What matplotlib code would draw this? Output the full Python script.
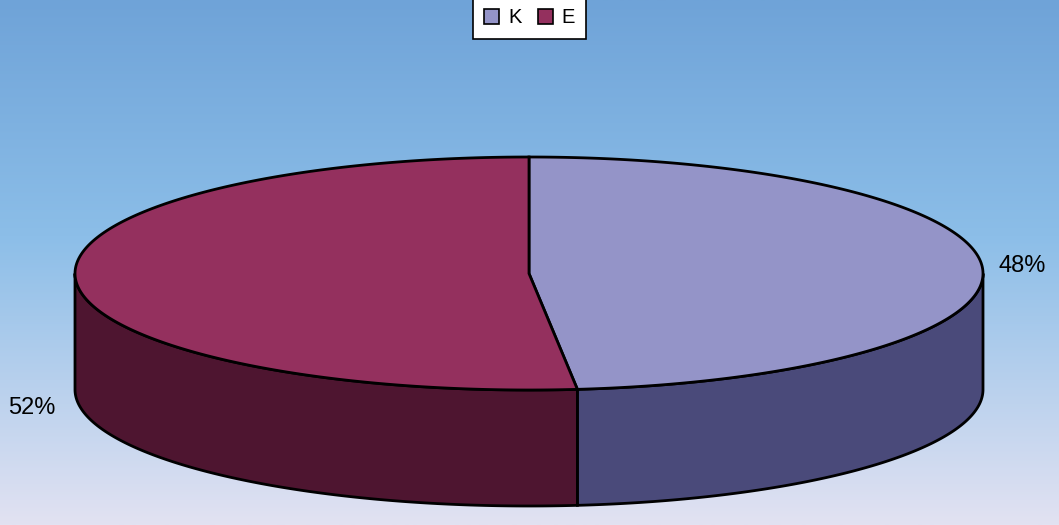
import numpy as np
import matplotlib.pyplot as plt
from matplotlib.patches import Polygon, Patch

labels = ['K', 'E']
values = [48.3, 51.7]
top_colors = ['#9494c8', '#94305e']
side_colors = ['#4a4a7a', '#4e1530']
pct_labels = ['48%', '52%']

plt.rcParams['font.family'] = ['Liberation Sans', 'DejaVu Sans']

W, H = 1059, 525
fig = plt.figure(figsize=(W / 100, H / 100), dpi=100)
ax = fig.add_axes([0, 0, 1, 1])
ax.set_xlim(0, W)
ax.set_ylim(H, 0)
ax.axis('off')

# background gradient
top = np.array([111, 163, 216]) / 255
mid = np.array([140, 190, 232]) / 255
bot = np.array([226, 226, 242]) / 255
t = np.linspace(0, 1, 256)[:, None]
grad = np.where(t < 0.45, top + (mid - top) * (t / 0.45), mid + (bot - mid) * ((t - 0.45) / 0.55))
ax.imshow(grad[:, None, :], extent=[0, W, H, 0], aspect='auto', zorder=0)

cx, cy, rx, ry, depth = 529, 273.5, 454, 116.5, 116


def pt(a, dz=0):
    a = np.radians(a)
    return cx + rx * np.cos(a), cy - ry * np.sin(a) + dz


def arc(a0, a1, dz=0, n=200):
    a = np.linspace(a0, a1, n)
    return np.column_stack(pt(a, dz))


# slice angles (clockwise from 12 o'clock)
total = sum(values)
starts, ends = [], []
ang = 90.0
for v in values:
    starts.append(ang)
    ang -= 360 * v / total
    ends.append(ang)

# side walls (front half only: angles 180..360)
for s, e, c in zip(starts, ends, side_colors):
    a0m = e % 360
    a1m = a0m + (s - e)
    segs = []
    for lo, hi in [(180, 360), (540, 720)]:
        p, q = max(a0m, lo), min(a1m, hi)
        if q > p:
            segs.append((p, q))
    for p, q in segs:
        top_arc = arc(p, q)
        bot_arc = arc(q, p, depth)
        ax.add_patch(Polygon(np.vstack([top_arc, bot_arc]), closed=True,
                             facecolor=c, edgecolor='black', lw=2, zorder=2))

# top faces
for s, e, c in zip(starts, ends, top_colors):
    pts = np.vstack([[cx, cy], arc(s, e)])
    ax.add_patch(Polygon(pts, closed=True, facecolor=c, edgecolor='black',
                         lw=2, zorder=3))

# percentage labels
ax.text(1022, 266, pct_labels[0], fontsize=17, ha='center', va='center', zorder=4)
ax.text(32, 408, pct_labels[1], fontsize=17, ha='center', va='center', zorder=4)

handles = [Patch(facecolor=c, edgecolor='black', lw=1.2) for c in top_colors]
leg = ax.legend(handles, labels, loc='upper center', bbox_to_anchor=(0.5, 1.005),
                ncol=2, frameon=True, fancybox=False, fontsize=14.5,
                handlelength=0.75, handleheight=0.75, handletextpad=0.45,
                columnspacing=0.8, borderpad=0.55, borderaxespad=0)
leg.get_frame().set_edgecolor('black')
leg.get_frame().set_linewidth(1.2)
leg.get_frame().set_alpha(1)

fig.savefig('out.png', dpi=100)
